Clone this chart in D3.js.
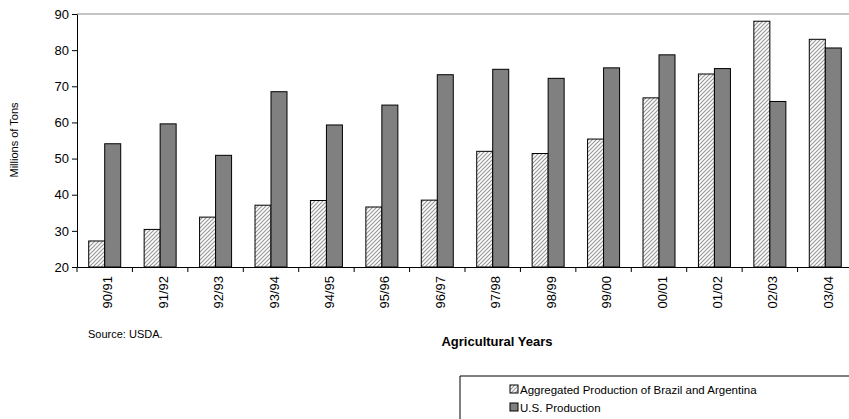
<!DOCTYPE html><html><head><script src="https://cdn.jsdelivr.net/npm/d3@7"></script>
<style>body{margin:0;background:#fff}text{font-family:Arial,"Liberation Sans",sans-serif}</style></head><body>
<svg id="c" width="849" height="419"></svg>
<script>
const categories=["90/91","91/92","92/93","93/94","94/95","95/96","96/97","97/98","98/99","99/00","00/01","01/02","02/03","03/04"];
const brazilArg=[27.2,30.4,33.8,37.1,38.4,36.6,38.5,52.0,51.4,55.4,66.8,73.4,88.0,83.0];
const usProd=[54.1,59.6,50.9,68.5,59.3,64.8,73.2,74.7,72.2,75.1,78.7,74.9,65.8,80.6];
const yTicks=[20,30,40,50,60,70,80,90];
const svg=d3.select("#c");
const L=77,R=853,T=14,B=267;
const defs=svg.append("defs");
const p=defs.append("pattern").attr("id","h").attr("patternUnits","userSpaceOnUse").attr("width",4).attr("height",4);
p.append("rect").attr("width",4).attr("height",4).attr("fill","#fff");
p.append("path").attr("d","M-1,1 l2,-2 M0,4 l4,-4 M3,5 l2,-2").attr("stroke","#999").attr("stroke-width",1.2);
const x=d3.scaleBand().domain(categories).range([L,R]);
const y=d3.scaleLinear().domain([20,90]).range([B,T]);
svg.append("line").attr("x1",L).attr("x2",849).attr("y1",T).attr("y2",T).attr("stroke","#888");
const g=svg.append("g");
const bw=16;
categories.forEach((c,i)=>{
 const cx=x(c)+x.bandwidth()/2;
 g.append("rect").attr("x",cx-bw).attr("y",y(brazilArg[i])).attr("width",bw).attr("height",B-y(brazilArg[i])).attr("fill","url(#h)").attr("stroke","#000").attr("stroke-width",1);
 g.append("rect").attr("x",cx).attr("y",y(usProd[i])).attr("width",bw).attr("height",B-y(usProd[i])).attr("fill","#808080").attr("stroke","#000").attr("stroke-width",1);
});
const ya=svg.append("g").attr("transform",`translate(${L},0)`).call(d3.axisLeft(y).tickValues(yTicks).tickSize(5).tickSizeOuter(0));
ya.selectAll("text").attr("font-size",13).attr("fill","#000");
const xa=svg.append("g").attr("transform",`translate(0,${B})`).call(d3.axisBottom(x).tickSize(0).tickSizeOuter(0));
xa.selectAll("text").attr("font-size",13).attr("fill","#000").attr("transform","rotate(-90)").attr("text-anchor","end").attr("dx",-9).attr("dy",4.5);
svg.selectAll(".domain").attr("stroke","#000");
x.domain().forEach(c=>svg.append("line").attr("x1",x(c)).attr("x2",x(c)).attr("y1",B).attr("y2",B+5).attr("stroke","#000"));
svg.append("text").attr("transform","translate(18,140) rotate(-90)").attr("text-anchor","middle").attr("font-size",11).text("Millions of Tons");
svg.append("text").attr("x",497).attr("y",346).attr("text-anchor","middle").attr("font-size",13).attr("font-weight","bold").text("Agricultural Years");
svg.append("text").attr("x",88).attr("y",338).attr("font-size",11).text("Source: USDA.");
svg.append("line").attr("x1",460).attr("x2",849).attr("y1",376).attr("y2",376).attr("stroke","#000");
svg.append("line").attr("x1",460).attr("x2",460).attr("y1",376).attr("y2",419).attr("stroke","#000");
const leg=[["Aggregated Production of Brazil and Argentina","url(#h)"],["U.S. Production","#808080"]];
leg.forEach((d,i)=>{
 svg.append("rect").attr("x",510).attr("y",385+i*18).attr("width",8).attr("height",8).attr("fill",d[1]).attr("stroke","#000");
 svg.append("text").attr("x",520).attr("y",394+i*18).attr("font-size",11.5).text(d[0]);
});
</script></body></html>
